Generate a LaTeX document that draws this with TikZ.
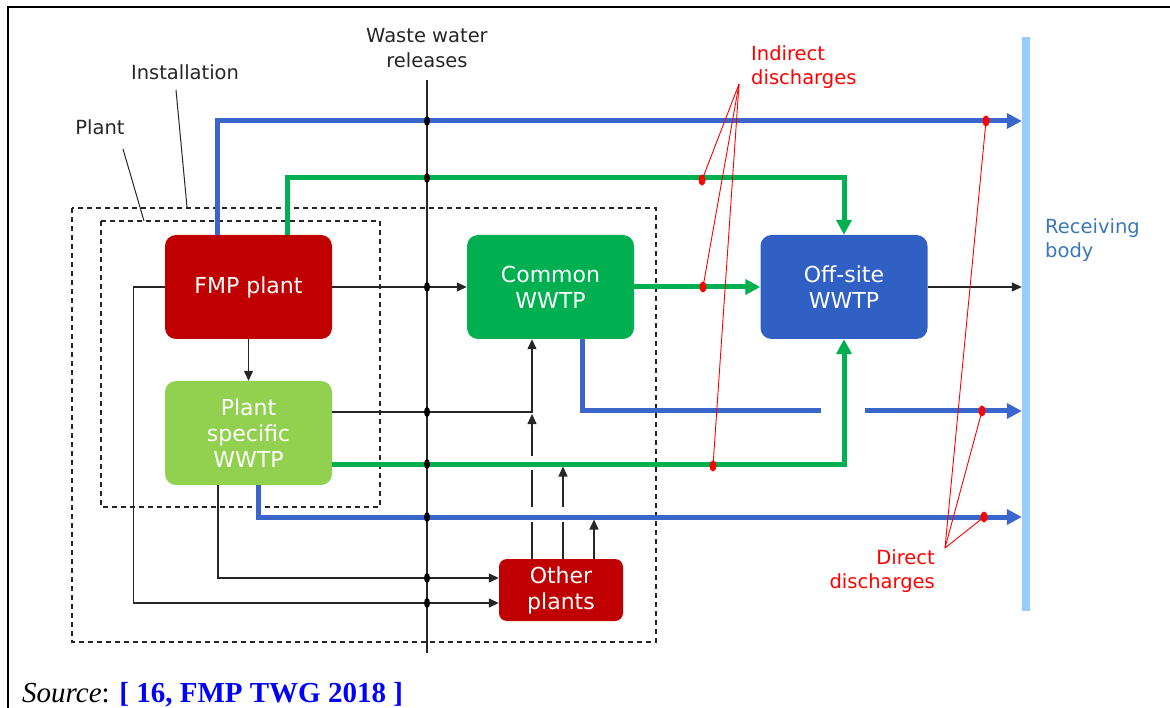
\documentclass[tikz,border=0pt]{standalone}
\usepackage{fontspec}
\setmainfont{Liberation Serif}
\newfontfamily\diagfont{DejaVu Sans}
\usepackage{xcolor}
\usepackage{tikz}
\usetikzlibrary{arrows.meta, calc}

\definecolor{fmpred}{HTML}{C00000}
\definecolor{lightgrn}{HTML}{92D050}
\definecolor{wwgreen}{HTML}{00B050}
\definecolor{offblue}{HTML}{3060C4}
\definecolor{flowblue}{HTML}{3A66CC}
\definecolor{bodyblue}{HTML}{99CCFF}
\definecolor{bodytext}{HTML}{3A78B8}
\definecolor{srcblue}{HTML}{0000FF}

\begin{document}
\begin{tikzpicture}[x=1pt, y=-1pt,
	wwbox/.style={rounded corners=11pt, text=white, align=center, inner sep=0pt,
		minimum width=167pt, minimum height=104pt, font=\diagfont\fontsize{22}{26}\selectfont},
	lbl/.style={font=\diagfont\fontsize{19.5}{24.5}\selectfont, inner sep=0pt, text=black!85},
	thickfl/.style={line width=5pt, -{Triangle[length=15pt,width=15pt]}},
	blkarr/.style={black!85, line width=1.3pt, -{Triangle[length=10pt,width=9pt]}},
	blkline/.style={black!85, line width=1.3pt},
	dashbox/.style={black!85, line width=1.3pt, dash pattern=on 5pt off 4pt},
	redlead/.style={red, line width=0.9pt}]
	\useasboundingbox (0,0) rectangle (1170,708);
	% page frame
	\draw[line width=2pt] (8,708) -- (8,7) -- (1170,7);
	
	% Boxes
	\node[wwbox, fill=fmpred] (fmp) at (248.5,287) {\raisebox{-3pt}{FMP plant}};
	\node[wwbox, fill=lightgrn] (pswwtp) at (248.5,433) {Plant\\specific\\WWTP};
	\node[wwbox, fill=wwgreen] (common) at (550.5,287) {Common\\WWTP};
	\node[wwbox, fill=offblue] (offsite) at (844,287) {Off-site\\WWTP};
	\node[wwbox, fill=fmpred, minimum width=124pt, minimum height=62pt, rounded corners=8pt] (other) at (561,590) {Other\\plants};
	\node[fill=bodyblue, inner sep=0pt, minimum width=8pt, minimum height=574pt] (body) at (1026,324) {};
	
	% Labels
	\node[lbl, align=center] (wwlabel) at (427,48) {Waste water\\releases};
	\node[lbl] (instlabel) at (185,72) {Installation};
	\node[lbl] (plantlabel) at (100,127) {Plant};
	\node[lbl, text=red, align=left, anchor=west] (indlabel) at (751,67) {Indirect\\discharges};
	\node[lbl, text=bodytext, align=left, anchor=west] (bodylabel) at (1045,240) {Receiving\\body};
	\node[lbl, text=red, align=right, anchor=east] (dirlabel) at (935,571) {Direct\\discharges};
	\node[anchor=base west, inner sep=0pt, font=\fontsize{29}{32}\selectfont] (source) at (22,702)
		{\textit{Source}: \textcolor{srcblue}{\textbf{[ 16, FMP TWG 2018 ]}}};
	
	% Installation and plant limits
	\draw[dashbox] (72,208) rectangle (656,642);
	\draw[dashbox] (101,221) rectangle (380,507);
	\draw[blkline, line width=1pt] (176,90) -- (187,207);
	\draw[blkline, line width=1pt] (123,149) -- (144,221);
	
	% Thick flows
	\coordinate (jumpl) at (821,411);
	\coordinate (jumpr) at (865,411);
	\draw[thickfl, flowblue] ([xshift=-31.5pt]fmp.north) |- (body.west |- 0,121);
	\draw[thickfl, wwgreen] ([xshift=38.5pt]fmp.north) |- (offsite.north |- 0,178) -- (offsite.north);
	\draw[thickfl, wwgreen] (common.east) -- (offsite.west);
	\draw[thickfl, wwgreen] ([yshift=-31pt]pswwtp.east) -| (offsite.south);
	\draw[thickfl, flowblue, -] ([xshift=31.5pt]common.south) |- (jumpl);
	\draw[thickfl, flowblue] (jumpr) -- (body.west |- jumpr);
	\draw[thickfl, flowblue] ([xshift=9.5pt]pswwtp.south) |- (body.west |- 0,517);
	
	% Thin flows
	\draw[blkarr] (fmp.east) -- (common.west);
	\draw[blkarr] (offsite.east) -- (body.west |- offsite.east);
	\draw[blkarr] (fmp.south) -- (pswwtp.north);
	\draw[blkarr] ([yshift=21pt]pswwtp.east) -| ([xshift=-18.5pt]common.south);
	\draw[blkarr] ([xshift=-30.5pt]pswwtp.south) |- ([yshift=12pt]other.west);
	\draw[blkarr] (fmp.west) -- ++(-31,0) |- ([yshift=-13pt]other.west);
	\coordinate (up1) at ([xshift=-29pt]other.north);
	\coordinate (up2) at ([xshift=2pt]other.north);
	\coordinate (up3) at ([xshift=33pt]other.north);
	\draw[blkarr, dash pattern=on 37pt off 15pt on 37pt off 14pt on 60pt] (up1) -- (up1 |- 0,414);
	\draw[blkarr, dash pattern=on 37pt off 15pt on 60pt] (up2) -- (up2 |- 0,466.5);
	\draw[blkarr] (up3) -- (up3 |- 0,519.5);
	
	% Waste water releases
	\coordinate (wwtop) at (427,80);
	\coordinate (wwbot) at (427,653);
	\draw[blkline] (wwtop) -- (wwbot);
	\foreach \yy in {121,178,287,412,464,517,578,603}
		\fill[black] (427,\yy) ellipse [x radius=3pt, y radius=5pt];
	
	% Discharge markers
	\coordinate (indapex) at (739,84);
	\coordinate (dirapex) at (945,548);
	\foreach \p in {(702,180),(703,287),(713,466)} {
		\draw[redlead] (indapex) -- \p;
		\fill[red] \p ellipse [x radius=3.5pt, y radius=5.5pt];
	}
	\foreach \p in {(986,121),(982,411),(984,517)} {
		\draw[redlead] (dirapex) -- \p;
		\fill[red] \p ellipse [x radius=3.5pt, y radius=5.5pt];
	}
\end{tikzpicture}
\end{document}
